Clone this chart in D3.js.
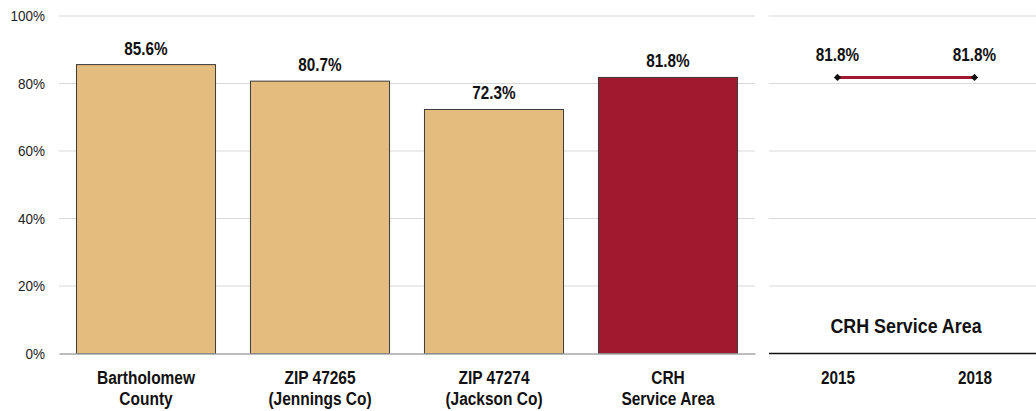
<!DOCTYPE html>
<html><head><meta charset="utf-8">
<script src="https://cdn.jsdelivr.net/npm/d3@7"></script>
<style>
body{margin:0;background:#fff;}
svg{display:block;font-family:"Liberation Sans",Arial,sans-serif;}
</style></head>
<body><svg id="c" width="1036" height="411"></svg>
<script>
const categories = [["Bartholomew","County"],["ZIP 47265","(Jennings Co)"],["ZIP 47274","(Jackson Co)"],["CRH","Service Area"]];
const values = [85.6, 80.7, 72.3, 81.8];
const barColors = ["#E4BC7E","#E4BC7E","#E4BC7E","#A0192F"];
const yTicks = [0,20,40,60,80,100];
const trendYears = ["2015","2018"];
const trendValues = [81.8, 81.8];
const trendTitle = "CRH Service Area";

// narrow-font emulation
function condense(sel, f){
  sel.each(function(){
    const w = this.getComputedTextLength();
    if (w>0) { this.setAttribute("textLength", (w*f).toFixed(2)); this.setAttribute("lengthAdjust","spacingAndGlyphs"); }
  });
}

const svg = d3.select("#c");
const y = d3.scaleLinear().domain([0,100]).range([353.5,16]);
const x = d3.scaleBand().domain(categories.map((d,i)=>i)).range([59,755]).paddingInner(0.195).paddingOuter(0.0975);
const x2 = d3.scalePoint().domain(trendYears).range([769,1043]).padding(0.5);

// gridlines left
svg.append("g").selectAll("line").data(yTicks.filter(t=>t>0)).join("line")
  .attr("x1",59).attr("x2",755).attr("y1",d=>y(d)).attr("y2",d=>y(d))
  .attr("stroke","#d9d9d9").attr("stroke-width",1);
// gridlines right
svg.append("g").selectAll("line").data(yTicks.filter(t=>t>0)).join("line")
  .attr("x1",769).attr("x2",1036).attr("y1",d=>y(d)).attr("y2",d=>y(d))
  .attr("stroke","#d9d9d9").attr("stroke-width",1);

// y axis labels
const yAxis = d3.axisLeft(y).tickValues(yTicks).tickFormat(d=>d+"%").tickSize(0).tickPadding(0);
const ya = svg.append("g").attr("transform","translate(45,0)").call(yAxis);
ya.select(".domain").remove();
ya.selectAll("text").attr("font-size",15).attr("fill","#222").attr("font-family","inherit");
condense(ya.selectAll("text"), 0.9);

// bars
svg.append("g").selectAll("rect").data(values).join("rect")
  .attr("x",(d,i)=>x(i)+0.5).attr("width",x.bandwidth()-1)
  .attr("y",d=>y(d)).attr("height",d=>y(0)-y(d))
  .attr("fill",(d,i)=>barColors[i]).attr("stroke","#3a3a3a").attr("stroke-width",1);

// value labels
const vl = svg.append("g").selectAll("text").data(values).join("text")
  .attr("x",(d,i)=>x(i)+x.bandwidth()/2).attr("y",d=>y(d)-10)
  .attr("text-anchor","middle").attr("font-weight","bold").attr("font-size",18).attr("fill","#111")
  .text(d=>d.toFixed(1)+"%");
condense(vl, 0.85);

// left x axis
const xa = d3.axisBottom(x).tickSize(0).tickFormat("");
const xg = svg.append("g").attr("transform",`translate(0,${y(0)})`).call(xa);
xg.select(".domain").attr("stroke","#a6a6a6").attr("stroke-width",1.5);
const xl = svg.append("g").selectAll("text").data(categories).join("text")
  .attr("x",(d,i)=>x(i)+x.bandwidth()/2).attr("y",384)
  .attr("text-anchor","middle").attr("font-weight","bold").attr("font-size",18).attr("fill","#111");
const xts = xl.selectAll("tspan").data(d=>d).join("tspan")
  .attr("x",function(){return this.parentNode.getAttribute("x");})
  .attr("dy",(d,i)=>i===0?0:21).text(d=>d);
condense(xts, 0.86);

// right axis
const xb = d3.axisBottom(x2).tickSize(0).tickPadding(0);
const xbg = svg.append("g").attr("transform",`translate(0,${y(0)})`).call(xb);
xbg.select(".domain").attr("d",`M769,0H1036`).attr("stroke","#111").attr("stroke-width",1.5);
xbg.selectAll("text").attr("y",30).attr("dy",0).attr("font-size",18).attr("font-weight","bold").attr("fill","#111").attr("font-family","inherit");
condense(xbg.selectAll("text"), 0.85);

// trend line
const line = d3.line().x((d,i)=>x2(trendYears[i])).y(d=>y(d));
svg.append("path").datum(trendValues).attr("d",line).attr("fill","none")
  .attr("stroke","#A0192F").attr("stroke-width",3);
svg.append("g").selectAll("path").data(trendValues).join("path")
  .attr("transform",(d,i)=>`translate(${x2(trendYears[i])},${y(d)}) rotate(45)`)
  .attr("d",d3.symbol().type(d3.symbolSquare).size(26)).attr("fill","#111");
const tl = svg.append("g").selectAll("text").data(trendValues).join("text")
  .attr("x",(d,i)=>x2(trendYears[i])).attr("y",d=>y(d)-16)
  .attr("text-anchor","middle").attr("font-weight","bold").attr("font-size",18).attr("fill","#111")
  .text(d=>d.toFixed(1)+"%");
condense(tl, 0.85);
const tt = svg.append("text").attr("x",(769+1043)/2).attr("y",333).attr("text-anchor","middle")
  .attr("font-weight","bold").attr("font-size",21).attr("fill","#111").text(trendTitle);
condense(tt, 0.85);
</script></body></html>
